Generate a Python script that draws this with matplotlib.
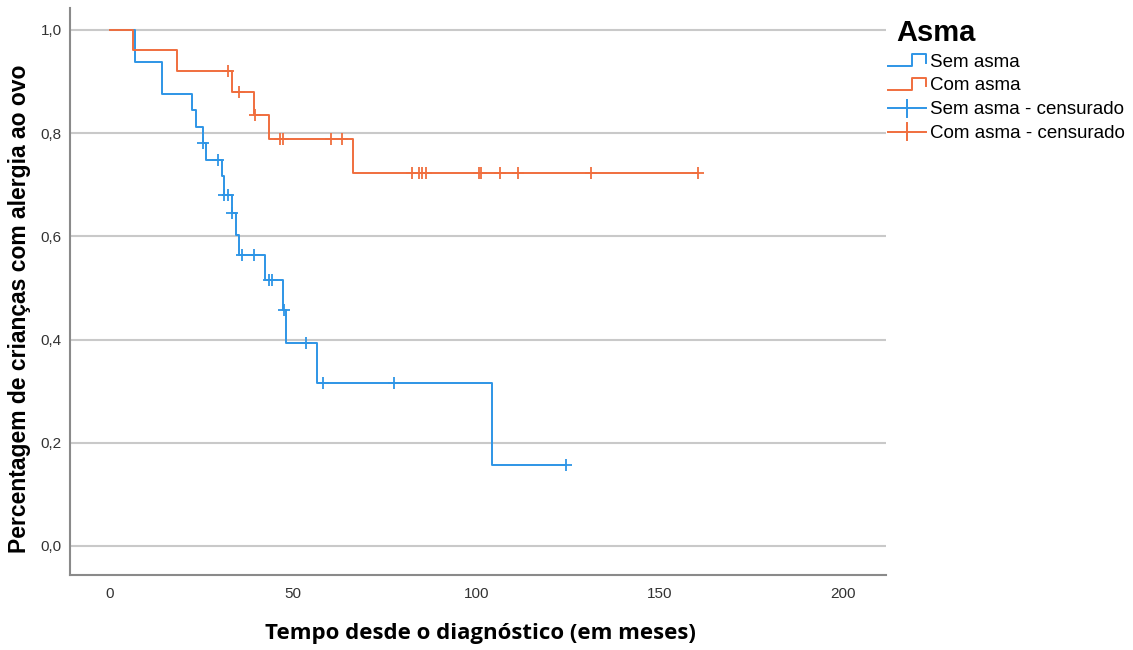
import matplotlib
matplotlib.use("Agg")
import matplotlib.pyplot as plt
from matplotlib.lines import Line2D
from matplotlib.legend_handler import HandlerBase

# ---- data ----
sem_times = [0, 6.8, 14.3, 22.3, 23.4, 25.3, 26.2, 30.5, 31.2, 33.2, 34.3, 35.3, 42.3, 47.3, 48.0, 56.4, 104.4]
sem_surv = [1.0, 0.9375, 0.875, 0.844, 0.8125, 0.781, 0.749, 0.717, 0.681, 0.645, 0.603, 0.563, 0.516, 0.457, 0.394, 0.315, 0.157]
sem_end = 124.6
sem_cens_t = [25.5, 29.4, 31.2, 32.3, 33.2, 36.1, 39.3, 43.3, 44.1, 47.6, 53.4, 58.2, 77.5, 124.6]
sem_cens_s = [0.781, 0.749, 0.681, 0.681, 0.645, 0.563, 0.563, 0.516, 0.516, 0.457, 0.394, 0.315, 0.315, 0.157]

com_times = [0, 6.2, 18.4, 33.4, 39.3, 43.4, 66.4]
com_surv = [1.0, 0.961, 0.920, 0.879, 0.835, 0.789, 0.722]
com_end = 160.5
com_cens_t = [32.1, 35.2, 39.6, 46.4, 47.1, 60.3, 63.2, 82.5, 84.4, 85.2, 86.2, 100.7, 101.2, 106.4, 111.4, 131.4, 160.5]
com_cens_s = [0.92, 0.879, 0.835, 0.789, 0.789, 0.789, 0.789, 0.722, 0.722, 0.722, 0.722, 0.722, 0.722, 0.722, 0.722, 0.722, 0.722]

x_ticks = [0, 50, 100, 150, 200]
y_ticks = [0.0, 0.2, 0.4, 0.6, 0.8, 1.0]
y_ticklabels = ["0,0", "0,2", "0,4", "0,6", "0,8", "1,0"]
labels = ["Sem asma", "Com asma", "Sem asma - censurado", "Com asma - censurado"]

BLUE = "#2e95e6"
ORANGE = "#f06e3e"

fig = plt.figure(figsize=(11.33, 6.5), dpi=100)
ax = fig.add_axes([70 / 1133, 1 - 575 / 650, (886 - 70) / 1133, (575 - 8) / 650])

ax.set_xlim(-10.9, 211.8)
ax.set_ylim(-0.0562, 1.0426)

for yt in y_ticks:
    ax.axhline(yt, color="#c9c9c9", lw=1.5, zorder=0)

ax.step(sem_times + [sem_end], sem_surv + [sem_surv[-1]], where="post", color=BLUE, lw=1.4, zorder=3)
ax.step(com_times + [com_end], com_surv + [com_surv[-1]], where="post", color=ORANGE, lw=1.4, zorder=3)
ax.plot(sem_cens_t, sem_cens_s, ls="none", marker="+", ms=8, mew=1.3, color=BLUE, zorder=4)
ax.plot(com_cens_t, com_cens_s, ls="none", marker="+", ms=8, mew=1.3, color=ORANGE, zorder=4)

for s in ["top", "right"]:
    ax.spines[s].set_visible(False)
for s in ["left", "bottom"]:
    ax.spines[s].set_color("#8a8a8a")
    ax.spines[s].set_linewidth(1.5)

ax.set_xticks(x_ticks)
ax.set_xticklabels([str(v) for v in x_ticks])
ax.set_yticks(y_ticks)
ax.set_yticklabels(y_ticklabels)
ax.tick_params(axis="both", length=0, labelsize=11, labelcolor="#333333",
               labelfontfamily="Liberation Sans")
ax.tick_params(axis="x", pad=9)
ax.tick_params(axis="y", pad=6)

ax.set_xlabel("Tempo desde o diagnóstico (em meses)", fontsize=16, fontweight="bold",
              family="Open Sans")
ax.xaxis.set_label_coords((480 - 70) / 816, -(633 - 575) / 567)
ax.xaxis.label.set_va("center")
ax.set_ylabel("Percentagem de crianças com alergia ao ovo", fontsize=16.5, fontweight="bold",
              family="Liberation Sans")
ax.yaxis.set_label_coords((20 - 70) / 816, 1 - (309 - 8) / 567)
ax.yaxis.label.set_va("center")


class StepHandler(HandlerBase):
    def __init__(self, color, censored=False):
        super().__init__()
        self.color = color
        self.censored = censored

    def create_artists(self, legend, orig_handle, xdescent, ydescent, width, height, fontsize, trans):
        x0 = -xdescent
        y0 = -ydescent
        if self.censored:
            l1 = Line2D([x0, x0 + width], [y0 + 0.45 * height] * 2, color=self.color, lw=1.4, transform=trans)
            xc = x0 + 0.5 * width
            l2 = Line2D([xc, xc], [y0 - 0.2 * height, y0 + 1.1 * height], color=self.color, lw=1.4, transform=trans)
            return [l1, l2]
        xs = [x0, x0 + 0.65 * width, x0 + 0.65 * width, x0 + width, x0 + width]
        ys = [y0 + 0.05 * height, y0 + 0.05 * height, y0 + 0.95 * height, y0 + 0.95 * height, y0 + 0.3 * height]
        l = Line2D(xs, ys, color=self.color, lw=1.4, transform=trans)
        return [l]


handles = [Line2D([], [], color=BLUE), Line2D([], [], color=ORANGE),
           Line2D([], [], color=BLUE, marker="+"), Line2D([], [], color=ORANGE, marker="+")]
hmap = {handles[0]: StepHandler(BLUE), handles[1]: StepHandler(ORANGE),
        handles[2]: StepHandler(BLUE, True), handles[3]: StepHandler(ORANGE, True)}
leg = fig.legend(handles, labels, handler_map=hmap, loc="upper left",
                 bbox_to_anchor=(888 / 1133, 1 - 19 / 650), frameon=False,
                 prop={"family": "Liberation Sans", "size": 13.5},
                 title="Asma", title_fontproperties={"family": "Liberation Sans", "weight": "bold", "size": 21},
                 alignment="left", handlelength=2.0, handletextpad=0.25, labelspacing=0.35,
                 borderpad=0.0, borderaxespad=0)
leg.get_title().set_position((8, 0))

fig.savefig("out.png", dpi=100)
